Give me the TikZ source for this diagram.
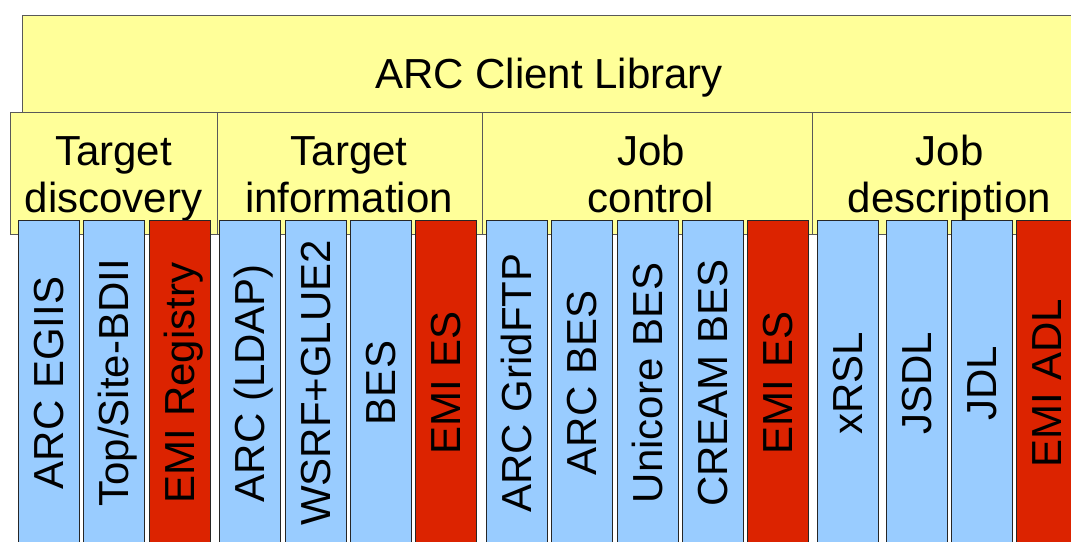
\documentclass[tikz,border=0pt]{standalone}
\usepackage{fontspec}
\setmainfont{Liberation Sans}
\definecolor{amarillo}{HTML}{FFFF99}
\definecolor{azul}{HTML}{99CCFF}
\definecolor{rojo}{HTML}{DC2300}

\begin{document}
\begin{tikzpicture}[x=1pt, y=-1pt,
    font=\fontsize{42}{47}\selectfont,
    caja/.style={draw=black!65, line width=1pt, fill=amarillo},
    titulo/.style={anchor=base, align=center, inner sep=0pt},
    columna/.style={draw=black!85, line width=1pt, rotate=90,
        minimum width=326pt, minimum height=61pt, inner sep=0pt,
        text height=30pt, text depth=0pt}]
    \useasboundingbox (0,0) rectangle (1071,541);

    % Biblioteca
    \draw[caja] (22,15) rectangle (1100,112);
    \node[titulo] (lib) at (549,88) {ARC Client Library};

    % Categorias
    \draw[caja] (10,112) rectangle (217,234);
    \draw[caja] (217,112) rectangle (482,234);
    \draw[caja] (482,112) rectangle (812,234);
    \draw[caja] (812,112) rectangle (1100,234);
    \node[titulo] (disc) at (113.5,212) {Target\\discovery};
    \node[titulo] (info) at (349,212) {Target\\information};
    \node[titulo] (ctrl) at (651,212) {Job\\control};
    \node[titulo] (desc) at (949.5,212) {Job\\description};

    % Columnas
    \foreach \x/\t/\c [count=\i] in {18/ARC EGIIS/azul, 83/{Top/Site-BDII}/azul,
        149/EMI Registry/rojo, 219/ARC (LDAP)/azul, 285/WSRF+GLUE2/azul,
        350/BES/azul, 415/EMI ES/rojo, 486/ARC GridFTP/azul, 551/ARC BES/azul,
        617/Unicore BES/azul, 682/CREAM BES/azul, 747/EMI ES/rojo,
        817/xRSL/azul, 886/JSDL/azul, 951/JDL/azul, 1016/EMI ADL/rojo}
        \node[columna, fill=\c] (c\i) at (\x+30.5,383) {\t};
\end{tikzpicture}
\end{document}
